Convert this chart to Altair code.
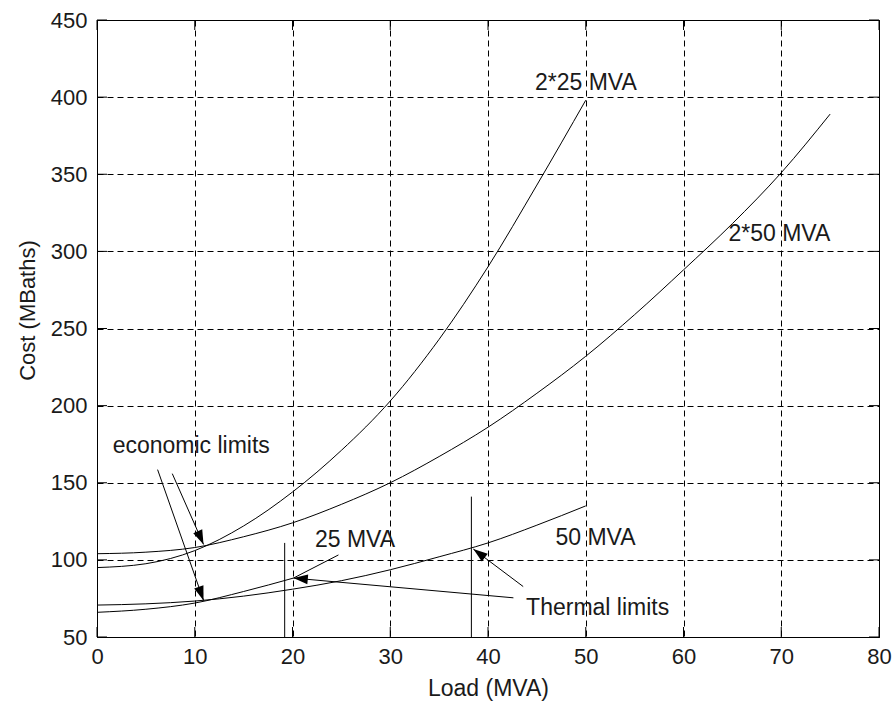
import math
import altair as alt
import pandas as pd

# ---------------- data ----------------
x_ticks = [0, 10, 20, 30, 40, 50, 60, 70, 80]
y_ticks = [50, 100, 150, 200, 250, 300, 350, 400, 450]

load_2x25 = [0, 5, 10, 15, 20, 25, 30, 35, 40, 45, 50]
cost_2x25 = [95, 97.5, 106, 122, 144, 171, 203, 243, 290, 343, 398]

load_2x50 = [0, 5, 10, 15, 20, 25, 30, 35, 40, 45, 50, 55, 60, 65, 70, 75]
cost_2x50 = [104, 105, 108, 115, 124, 136, 150, 167, 186, 208, 232, 259, 288, 318, 351, 389]

load_25 = [0, 5, 10, 15, 20.1]
cost_25 = [66, 68, 72, 79.5, 88.2]

load_50 = [0, 5, 10, 15, 20, 25, 30, 35, 40, 45, 50]
cost_50 = [70.7, 71.5, 73.3, 76.5, 81, 86.5, 93.6, 102, 111, 122.5, 135]

# annotation pointers (tail -> tip)
ptr_x1 = [7.7, 6.2, 42.6, 43.6, 24.7]
ptr_y1 = [155.9, 158.5, 75.4, 82.7, 103.2]
ptr_x2 = [10.9, 10.9, 20.1, 38.5, 20.1]
ptr_y2 = [110, 73.7, 88.2, 107, 88.2]
ptr_head = [True, True, True, True, False]

# thermal limit markers (vertical lines)
therm_x = [19.2, 38.3]
therm_y_top = [111, 141]

# text labels
label_text = ["2*25 MVA", "2*50 MVA", "25 MVA", "50 MVA", "Thermal limits", "economic limits"]
label_x = [44.8, 64.6, 22.3, 46.9, 43.9, 1.6]
label_y = [409, 311, 112.8, 114.3, 69, 173.7]

# ---------------- layout ----------------
W, H = 782, 617
FONT = "Liberation Sans"
X_DOM = [0, 80]
Y_DOM = [50, 450]
TXT = "#1a1a1a"

xs = alt.Scale(domain=X_DOM, nice=False, zero=False)
ys = alt.Scale(domain=Y_DOM, nice=False, zero=False)

rows = []
for name, xs_, ys_ in [("2*25", load_2x25, cost_2x25), ("2*50", load_2x50, cost_2x50),
                       ("25", load_25, cost_25), ("50", load_50, cost_50)]:
    for i, (a, b) in enumerate(zip(xs_, ys_)):
        rows.append({"series": name, "load": a, "cost": b, "ord": i})
curves = pd.DataFrame(rows)

ptr = pd.DataFrame({"x1": ptr_x1, "y1": ptr_y1, "x2": ptr_x2, "y2": ptr_y2, "head": ptr_head})
pxx = W / (X_DOM[1] - X_DOM[0])
pxy = H / (Y_DOM[1] - Y_DOM[0])
angles = []
for a, b, c, d in zip(ptr_x1, ptr_y1, ptr_x2, ptr_y2):
    dx = (c - a) * pxx
    dy = -(d - b) * pxy
    angles.append(math.degrees(math.atan2(dx, -dy)) % 360)
ptr["angle"] = angles
heads = ptr[ptr["head"]]

therm = pd.DataFrame({"x": therm_x, "y1": [Y_DOM[0]] * len(therm_x), "y2": therm_y_top})
labels = pd.DataFrame({"t": label_text, "x": label_x, "y": label_y})
xt = pd.DataFrame({"v": x_ticks})
yt = pd.DataFrame({"v": y_ticks})

x_axis = alt.Axis(values=x_ticks, grid=True, gridDash=[6, 4], gridColor="black", gridOpacity=1,
                  gridWidth=1, tickSize=0, domainColor="black", labelFont=FONT, labelFontSize=22,
                  labelColor=TXT, labelPadding=9, labelFlush=False, title="Load (MVA)",
                  titleFont=FONT, titleFontSize=23, titleFontWeight="normal", titleColor=TXT,
                  titleBaseline="alphabetic", titleY=58)
y_axis = alt.Axis(values=y_ticks, grid=True, gridDash=[6, 4], gridColor="black", gridOpacity=1,
                  gridWidth=1, tickSize=0, domainColor="black", labelFont=FONT, labelFontSize=22,
                  labelColor=TXT, labelPadding=10, labelFlush=False, title="Cost (MBaths)",
                  titleFont=FONT, titleFontSize=22, titleFontWeight="normal", titleColor=TXT,
                  titleAngle=270, titleBaseline="alphabetic", titleAlign="center",
                  titleX=-63, titleY=290)


def X(f):
    return alt.X(f, scale=xs, axis=x_axis)


def Y(f):
    return alt.Y(f, scale=ys, axis=y_axis)


lines = alt.Chart(curves).mark_line(color="black", strokeWidth=1, interpolate="monotone").encode(
    x=X("load:Q"), y=Y("cost:Q"), detail="series:N", order="ord:Q",
)

ptr_lines = alt.Chart(ptr).mark_rule(color="black", strokeWidth=1).encode(
    x=X("x1:Q"), y=Y("y1:Q"), x2="x2:Q", y2="y2:Q",
)

arrowheads = alt.Chart(heads).mark_point(
    shape="M0,0L0.75,2.2L-0.75,2.2Z", filled=True, color="black", opacity=1, size=170, strokeWidth=0
).encode(
    x=X("x2:Q"), y=Y("y2:Q"), angle=alt.Angle("angle:Q", scale=None),
)

therm_lines = alt.Chart(therm).mark_rule(color="black", strokeWidth=1).encode(
    x=X("x:Q"), y=Y("y1:Q"), y2="y2:Q",
)

texts = alt.Chart(labels).mark_text(align="left", baseline="middle", font=FONT, fontSize=23,
                                    color=TXT).encode(
    x=X("x:Q"), y=Y("y:Q"), text="t:N",
)

TL = 10
tick_b = alt.Chart(xt).mark_rule(color="black").encode(
    x=X("v:Q"), y=alt.value(H), y2=alt.value(H - TL))
tick_t = alt.Chart(xt).mark_rule(color="black").encode(
    x=X("v:Q"), y=alt.value(0), y2=alt.value(TL))
tick_l = alt.Chart(yt).mark_rule(color="black").encode(
    y=Y("v:Q"), x=alt.value(0), x2=alt.value(TL))
tick_r = alt.Chart(yt).mark_rule(color="black").encode(
    y=Y("v:Q"), x=alt.value(W), x2=alt.value(W - TL))

chart = alt.layer(
    lines, tick_b, tick_t, tick_l, tick_r, therm_lines, ptr_lines, arrowheads, texts
).properties(
    width=W, height=H,
    autosize=alt.AutoSizeParams(type="none"),
    padding={"left": 97, "top": 20, "right": 14, "bottom": 65},
    background="white",
).configure_view(stroke="black", strokeWidth=1)

chart.save("out.html", embed_options={"renderer": "svg", "actions": False})
